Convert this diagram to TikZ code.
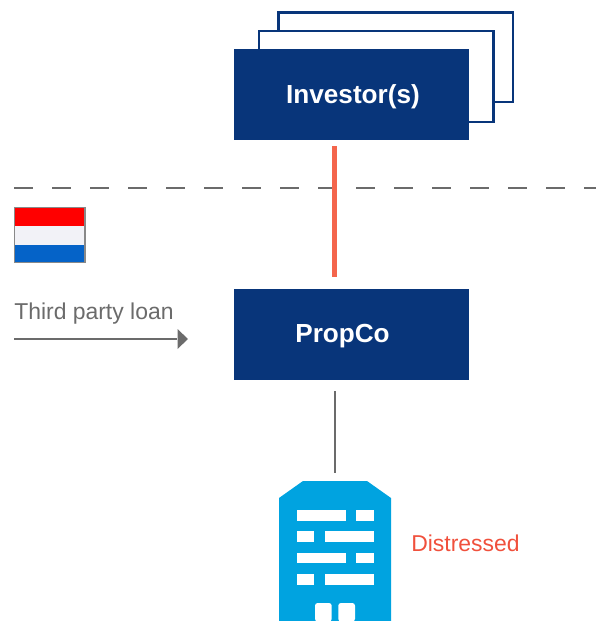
\documentclass[tikz,border=0pt]{standalone}
\usepackage{fontspec}
\setmainfont{Liberation Sans}
\definecolor{navy}{HTML}{08357A}
\definecolor{salmon}{HTML}{F4654C}
\definecolor{slate}{HTML}{6B6B6B}
\definecolor{sky}{HTML}{00A3E0}
\definecolor{alert}{HTML}{F0503C}
\definecolor{flagred}{HTML}{FF0000}
\definecolor{flagwhite}{HTML}{F2F2F7}
\definecolor{flagblue}{HTML}{0563C8}
\tikzset{
  x=0.75pt,y=-0.75pt,
  backcard/.style={draw=navy,line width=1.9pt,fill=white},
  mainbox/.style={fill=navy,text=white,font=\bfseries\fontsize{19.6}{22}\selectfont,minimum width=176.25pt,minimum height=68.25pt,inner sep=0pt},
  caption/.style={inner sep=0pt,font=\fontsize{17.2}{20}\selectfont},
  win/.style={fill=white,draw=none},
}
\begin{document}
\begin{tikzpicture}
\useasboundingbox (0,0) rectangle (596,621);
% back cards
\draw[backcard] (278.5,12.5) rectangle (513,102);
\draw[backcard] (259,31) rectangle (493.5,122);
% dashed boundary
\coordinate (dashL) at (14,188);
\coordinate (dashR) at (596,188);
\draw[slate,line width=2.2pt,dash pattern=on 14.25pt off 14.25pt] (dashL) -- (dashR);
% main boxes
\node[mainbox] (inv) at (351.5,94.5) {};
\node[inner sep=0pt,text=white,font=\bfseries\fontsize{19.6}{22}\selectfont,anchor=base] (invtxt) at (353,103) {Investor(s)};
\node[mainbox] (prop) at (351.5,334.5) {};
\node[inner sep=0pt,text=white,font=\bfseries\fontsize{19.6}{22}\selectfont,anchor=base] (proptxt) at (342.5,342) {PropCo};
% building
\node[minimum width=84pt,minimum height=105pt,inner sep=0pt] (bld) at (335,551) {};
\fill[sky] (279,621) -- (279,498) -- (303,481) -- (367,481) -- (391,498) -- (391,621) -- cycle;
\foreach \y/\h in {510/0,552.6/0}{
  \fill[win] (296.7,\y) rectangle ++(49,10.7);
  \fill[win] (356.3,\y) rectangle ++(17.4,10.7);
}
\foreach \y in {531.3,574}{
  \fill[win] (296.7,\y) rectangle ++(17.6,10.7);
  \fill[win] (325,\y) rectangle ++(48.7,10.7);
}
\fill[win,rounded corners=2pt] (315,621.5) -- (315,603) -- (331.7,603) -- (331.7,621.5) -- cycle;
\fill[win,rounded corners=2pt] (338.3,621.5) -- (338.3,603) -- (355,603) -- (355,621.5) -- cycle;
% connectors
\coordinate (cx) at (334.5,0);
\draw[salmon,line width=3.6pt,shorten >=9pt,shorten <=4.5pt] (inv.south -| cx) -- (prop.north -| cx);
\draw[slate,line width=2pt,shorten >=6pt,shorten <=8.25pt] (prop.south -| bld.north) -- (bld.north);
% flag
\fill[flagred] (14,207) rectangle (85,226);
\fill[flagwhite] (14,226) rectangle (85,245);
\fill[flagblue] (14,245) rectangle (85,263);
\draw[slate!80,line width=0.9pt] (14.4,207.4) rectangle (85,262.8);
% third party loan
\node[caption,text=slate,anchor=base west] (loan) at (14,319) {Third party loan};
\coordinate (arrL) at (14,339);
\coordinate (arrR) at (188,339);
\draw[slate,line width=2pt,shorten >=8pt] (arrL) -- (arrR);
\fill[slate] (arrR) -- (177.5,329) -- (177.5,349) -- cycle;
% distressed
\node[caption,text=alert,anchor=base west] (dist) at (411,551) {Distressed};
\end{tikzpicture}
\end{document}
